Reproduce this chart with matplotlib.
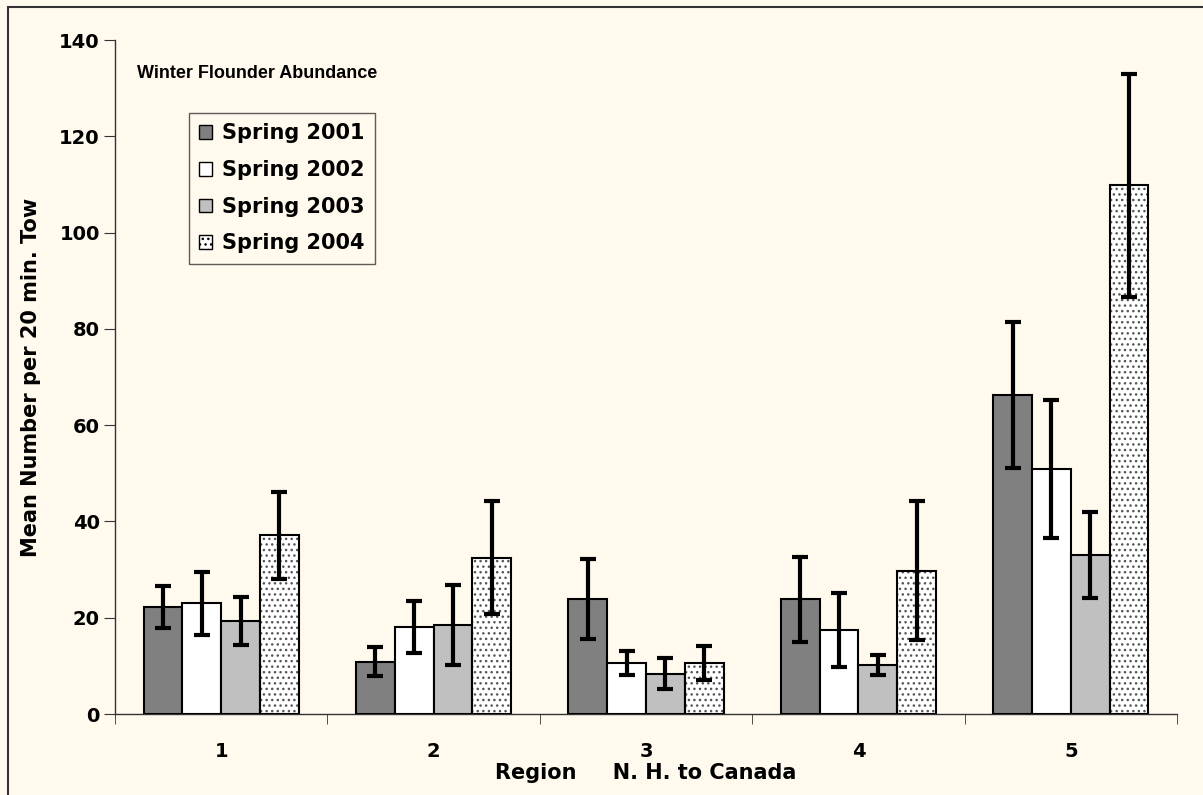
#!/usr/bin/env python3
import numpy as np
import matplotlib
matplotlib.use("Agg")
import matplotlib.pyplot as plt
from matplotlib.patches import Rectangle, Patch

# Mean winter flounder per 20 min tow, by region and spring survey year
regions = ["1", "2", "3", "4", "5"]
years = ["Spring 2001", "Spring 2002", "Spring 2003", "Spring 2004"]
spring_2001 = [22.2, 10.9, 23.8, 23.8, 66.2]
spring_2002 = [23.0, 18.0, 10.5, 17.4, 50.9]
spring_2003 = [19.3, 18.4, 8.4, 10.2, 33.0]
spring_2004 = [37.1, 32.5, 10.6, 29.8, 109.8]
err_2001 = [4.4, 3.0, 8.3, 8.9, 15.2]
err_2002 = [6.5, 5.4, 2.5, 7.7, 14.4]
err_2003 = [5.0, 8.3, 3.2, 2.1, 8.9]
err_2004 = [9.1, 11.7, 3.6, 14.5, 23.2]

means = [spring_2001, spring_2002, spring_2003, spring_2004]
errs = [err_2001, err_2002, err_2003, err_2004]
fills = ["#808080", "#FFFFFF", "#C0C0C0", "#FFFFFF"]
hatches = [None, None, None, "..."]

BG = "#FFF9EE"
plt.rcParams["font.family"] = "DejaVu Sans"
plt.rcParams["font.weight"] = "bold"
plt.rcParams["hatch.linewidth"] = 1.0

fig = plt.figure(figsize=(12.03, 7.95), dpi=100, facecolor=BG)
ax = fig.add_axes([115 / 1203, 1 - 714 / 795, 1062 / 1203, 674 / 795])
ax.set_facecolor(BG)

x = np.arange(len(regions))
w = 0.1825
for i in range(4):
    pos = x + (i - 1.5) * w
    if hatches[i]:
        # dotted fill first, then the black outline on top
        ax.bar(pos, means[i], w, color=fills[i], edgecolor="#555555",
               hatch=hatches[i], linewidth=0, zorder=2)
        ax.bar(pos, means[i], w, color="none", edgecolor="black",
               linewidth=1.5, zorder=3)
    else:
        ax.bar(pos, means[i], w, color=fills[i], edgecolor="black",
               linewidth=1.5, zorder=3)
    ax.errorbar(pos, means[i], yerr=errs[i], fmt="none", ecolor="black",
                elinewidth=3, capsize=6, capthick=3, zorder=4)

ax.set_xlim(-0.5, len(regions) - 0.5)
ax.set_ylim(0, 140)
ax.set_yticks(np.arange(0, 141, 20))
ax.set_xticks(x)
ax.set_xticklabels(regions)
ax.set_xticks(np.arange(-0.5, len(regions), 1), minor=True)
ax.tick_params(axis="x", which="major", length=0, pad=20, labelsize=14)
ax.tick_params(axis="x", which="minor", length=7, direction="out", color="#333333")
ax.tick_params(axis="y", length=8, direction="out", pad=3, labelsize=14, color="#333333")
for lab in ax.get_xticklabels() + ax.get_yticklabels():
    lab.set_fontweight("bold")

for s in ["top", "right"]:
    ax.spines[s].set_visible(False)
for s in ["left", "bottom"]:
    ax.spines[s].set_color("#333333")
    ax.spines[s].set_linewidth(1.0)

fig.text(646 / 1203, 1 - 773 / 795, "Region     N. H. to Canada",
         ha="center", va="center", fontsize=15, fontweight="bold")
fig.text(31 / 1203, 1 - 377 / 795, "Mean Number per 20 min. Tow",
         ha="center", va="center", rotation=90, fontsize=15, fontweight="bold")
fig.text(137 / 1203, 1 - 73 / 795, "Winter Flounder Abundance",
         ha="left", va="center", fontsize=13, fontweight="bold",
         family=["Liberation Sans", "DejaVu Sans"])

handles = [Patch(facecolor=fills[i], edgecolor="black", hatch=hatches[i],
                 linewidth=1.0) for i in range(4)]
leg = fig.legend(handles, years, loc="upper left",
                 bbox_to_anchor=(189 / 1203, 1 - 113 / 795), borderaxespad=0,
                 frameon=True, fancybox=False,
                 handlelength=0.62, handleheight=0.62, handletextpad=0.45,
                 labelspacing=0.8, borderpad=0.5,
                 prop={"weight": "bold", "size": 15})
leg.get_frame().set_edgecolor("#333333")
leg.get_frame().set_facecolor(BG)
leg.get_frame().set_linewidth(1.0)

# outer chart frame (left and top edges visible)
fig.patches.append(Rectangle((8 / 1203, -0.05), 1.2, 1 - 7 / 795 + 0.05,
                             transform=fig.transFigure, fill=False,
                             edgecolor="#333333", linewidth=1.5))

fig.savefig("out.png", dpi=100, facecolor=BG)
